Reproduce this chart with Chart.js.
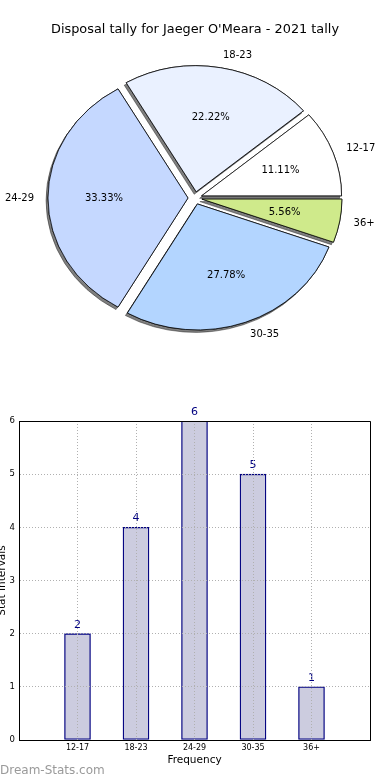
<!DOCTYPE html>
<html>
<head>
<meta charset="utf-8">
<script src="https://cdn.jsdelivr.net/npm/chart.js@4.4.0/dist/chart.umd.min.js"></script>
<style>
  html, body { margin: 0; padding: 0; background: #fff; }
  #wrap { position: relative; width: 390px; height: 780px; overflow: hidden; }
  .box { position: absolute; left: 0; width: 390px; height: 390px; }
  #pieBox { top: 0; }
  #barBox { top: 390px; }
  #mark { position: absolute; left: 0; top: 763px; font: 12px "DejaVu Sans"; line-height: 14px; color: #9a9a9a; }
</style>
</head>
<body>
<div id="wrap">
  <div class="box" id="pieBox"><canvas id="pie" width="390" height="390"></canvas></div>
  <div class="box" id="barBox"><canvas id="bar" width="390" height="390"></canvas></div>
  <div id="mark">Dream-Stats.com</div>
</div>
<script>
// data
const chartTitle = "Disposal tally for Jaeger O'Meara - 2021 tally";
const categories = ['12-17', '18-23', '24-29', '30-35', '36+'];
const counts = [2, 4, 6, 5, 1];
const sliceColors = ['#ffffff', '#eaf1ff', '#c5d8ff', '#b3d5ff', '#cfea8b'];
const yTicks = [0, 1, 2, 3, 4, 5, 6];

const FONT = '"DejaVu Sans", sans-serif';
const Y_SQUASH = 0.9;   // the original pie is a bit flattened
const EXPLODE = 7;      // px each slice is pushed out

// pie drawn counter-clockwise from 3 o'clock -> reverse for chart.js (clockwise)
const pieLabels = categories.slice().reverse();
const pieValues = counts.slice().reverse();
const pieColors = sliceColors.slice().reverse();

const pieDecor = {
  id: 'pieDecor',
  // draw the arcs ourselves so we can flatten + explode + shadow them
  beforeDatasetDraw(chart, args) {
    const arcs = args.meta.data;
    const ctx = chart.ctx;
    const cx = arcs[0].x, cy = arcs[0].y;
    const drawAll = () => arcs.forEach(arc => {
      const mid = (arc.startAngle + arc.endAngle) / 2;
      ctx.save();
      ctx.translate(Math.cos(mid) * EXPLODE, Math.sin(mid) * EXPLODE);
      arc.draw(ctx);
      ctx.restore();
    });
    ctx.save();
    ctx.translate(cx, cy);
    ctx.scale(1, Y_SQUASH);
    ctx.translate(-cx, -cy);
    // pass 1 with shadow, pass 2 clean on top so the shadow only shows outside
    ctx.save();
    ctx.shadowColor = 'rgba(0,0,0,0.5)';
    ctx.shadowOffsetX = -2;
    ctx.shadowOffsetY = 2.5;
    drawAll();
    ctx.restore();
    drawAll();
    ctx.restore();
    return false;
  },
  afterDatasetsDraw(chart) {
    const ctx = chart.ctx;
    const values = chart.data.datasets[0].data;
    const total = values.reduce((a, b) => a + b, 0);
    chart.getDatasetMeta(0).data.forEach((arc, i) => {
      const mid = (arc.startAngle + arc.endAngle) / 2;
      const r = arc.outerRadius;
      const c = Math.cos(mid), s = Math.sin(mid);
      const at = k => [arc.x + c * (EXPLODE + k * r), arc.y + s * (EXPLODE + k * r) * Y_SQUASH];
      ctx.save();
      ctx.fillStyle = '#000';
      ctx.textBaseline = 'middle';
      ctx.font = '10px ' + FONT;
      const [px, py] = at(0.6);
      ctx.textAlign = 'center';
      ctx.fillText((values[i] / total * 100).toFixed(2) + '%', px, py);
      const [lx, ly] = at(1.1);
      ctx.textAlign = c > 0 ? 'left' : 'right';
      ctx.fillText(chart.data.labels[i], lx, ly);
      ctx.restore();
    });
  }
};

new Chart(document.getElementById('pie'), {
  type: 'pie',
  data: {
    labels: pieLabels,
    datasets: [{
      data: pieValues,
      backgroundColor: pieColors,
      borderColor: '#000',
      borderWidth: 0.8,
      offset: 0,
      hoverOffset: 0,
      radius: 140
    }]
  },
  options: {
    responsive: false,
    animation: false,
    events: [],
    rotation: 90,
    layout: { padding: { left: 51, right: 51, top: 0, bottom: 48 } },
    plugins: {
      legend: { display: false },
      tooltip: { enabled: false },
      title: {
        display: true,
        text: chartTitle,
        color: '#000',
        font: { family: FONT, size: 13, weight: 'normal' },
        padding: { top: 22.2, bottom: 16.2 }
      }
    }
  },
  plugins: [pieDecor]
});

// bar chart
const barLabels = {
  id: 'barLabels',
  afterDatasetsDraw(chart) {
    const ctx = chart.ctx;
    const ds = chart.data.datasets[0];
    ctx.save();
    ctx.fillStyle = '#000080';
    ctx.font = '11px ' + FONT;
    ctx.textAlign = 'center';
    ctx.textBaseline = 'middle';
    chart.getDatasetMeta(0).data.forEach((bar, i) => {
      ctx.fillText(String(ds.data[i].y), bar.x, bar.y - 9);
    });
    ctx.restore();
  }
};

const frame = {
  id: 'frame',
  afterDraw(chart) {
    const { left, top, right, bottom } = chart.chartArea;
    const ctx = chart.ctx;
    ctx.save();
    ctx.strokeStyle = '#000';
    ctx.lineWidth = 1;
    ctx.beginPath();
    ctx.moveTo(Math.round(left), Math.round(top) + 0.5);
    ctx.lineTo(Math.round(right) + 0.5, Math.round(top) + 0.5);
    ctx.lineTo(Math.round(right) + 0.5, Math.round(bottom));
    ctx.stroke();
    ctx.restore();
  }
};

new Chart(document.getElementById('bar'), {
  type: 'bar',
  data: {
    datasets: [{
      data: counts.map((v, i) => ({ x: i + 1, y: v })),
      backgroundColor: '#ccccdf',
      borderColor: '#000080',
      borderWidth: 1.3,
      borderSkipped: false,
      barThickness: 26
    }]
  },
  options: {
    responsive: false,
    animation: false,
    events: [],
    layout: { padding: { top: 31, right: 20, left: 0, bottom: 0 } },
    plugins: { legend: { display: false }, tooltip: { enabled: false } },
    scales: {
      x: {
        type: 'linear',
        offset: false,
        min: 0,
        max: categories.length + 1,
        afterFit: s => { s.height = 40; },
        ticks: {
          stepSize: 1,
          autoSkip: false,
          maxRotation: 0,
          padding: 3,
          color: '#000',
          font: { family: FONT, size: 8 },
          callback: v => categories[v - 1] ?? ''
        },
        grid: { color: '#b0b0b0', drawTicks: false, offset: false, z: 1 },
        border: { color: '#000', width: 1, dash: [1, 2], z: 2 },
        title: {
          display: true,
          text: 'Frequency',
          color: '#000',
          font: { family: FONT, size: 10.5 },
          padding: { top: 0, bottom: 13.7 }
        }
      },
      y: {
        min: yTicks[0],
        max: yTicks[yTicks.length - 1],
        afterFit: s => { s.width = 19; },
        afterBuildTicks: s => { s.ticks = yTicks.map(v => ({ value: v })); },
        ticks: {
          padding: 4,
          color: '#000',
          font: { family: FONT, size: 8.5 }
        },
        grid: { color: '#b0b0b0', drawTicks: false, z: 1 },
        border: { color: '#000', width: 1, dash: [1, 2], z: 2 },
        title: {
          display: true,
          text: 'Stat Intervals',
          color: '#000',
          font: { family: FONT, size: 10.5 },
          padding: { top: -4, bottom: 0 }
        }
      }
    }
  },
  plugins: [barLabels, frame]
});
</script>
</body>
</html>
